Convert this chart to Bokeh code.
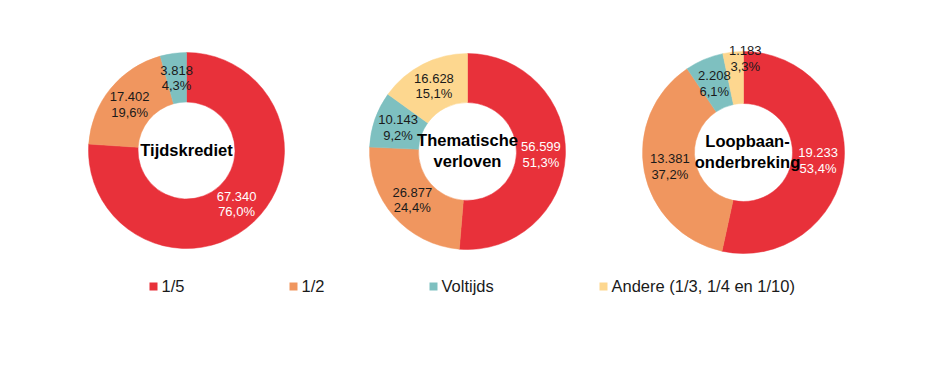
import math
from bokeh.plotting import figure
from bokeh.models import Range1d
from bokeh.core.properties import value
from bokeh.embed import file_html
from bokeh.resources import INLINE

# ---- data ----
categories = ["1/5", "1/2", "Voltijds", "Andere (1/3, 1/4 en 1/10)"]
colors = ["#E8313A", "#F0965F", "#7EC0C0", "#FDD78F"]
chart_titles = ["Tijdskrediet", "Thematische\nverloven", "Loopbaan-\nonderbreking"]
tijdskrediet = [67340, 17402, 3818, 0]
thematische_verloven = [56599, 26877, 10143, 16628]
loopbaanonderbreking = [19233, 13381, 2208, 1183]
series = [tijdskrediet, thematische_verloven, loopbaanonderbreking]

# ---- layout (page pixels; y measured downward from the page top) ----
W, H = 929, 352
cx = [186, 467, 743]
cy = [150, 151, 152]
r_out = [98, 98, 101]
r_in = [48.5, 49, 49]
label_r_extra = {(2, 3): 19}      # pushes the tiny slice label outwards
label_ang_extra = {(2, 3): -7}    # degrees
legend_x = [153, 293, 433, 603]
legend_y = 286

def Y(py):
    return 368 - py

p = figure(width=W, height=H, output_backend="svg", toolbar_location=None,
           x_range=Range1d(0, W), y_range=Range1d(368 - H, 368),
           min_border=0, outline_line_color=None)
p.axis.visible = False
p.grid.visible = False
p.background_fill_color = "white"
p.border_fill_color = "white"

font = value("Liberation Sans")

for ci, vals in enumerate(series):
    total = sum(vals)
    cum = 0.0
    xs, ys, starts, ends, cols = [], [], [], [], []
    lx, ly, lt, lc = [], [], [], []
    for k, v in enumerate(vals):
        if v <= 0:
            continue
        s = cum / total
        e = (cum + v) / total
        cum += v
        a_s = math.pi / 2 - 2 * math.pi * s
        a_e = math.pi / 2 - 2 * math.pi * e
        xs.append(cx[ci]); ys.append(Y(cy[ci]))
        starts.append(a_e); ends.append(a_s); cols.append(colors[k])
        mid = (a_s + a_e) / 2 + math.radians(label_ang_extra.get((ci, k), 0))
        rr = (r_in[ci] + r_out[ci]) / 2 + label_r_extra.get((ci, k), 0)
        lx.append(cx[ci] + rr * math.cos(mid))
        ly.append(Y(cy[ci]) + rr * math.sin(mid))
        pct = f"{100 * v / total:.1f}".replace(".", ",") + "%"
        lt.append(f"{v:,}".replace(",", ".") + "\n" + pct)
        lc.append("white" if k == 0 else "#1a1a1a")
    p.annular_wedge(x=xs, y=ys, inner_radius=r_in[ci], outer_radius=r_out[ci],
                    start_angle=starts, end_angle=ends, fill_color=cols,
                    line_color=cols, line_width=0.5)
    p.text(x=lx, y=ly, text=lt, text_color=lc, text_align="center",
           text_baseline="middle", text_font=font, text_font_size="13px",
           text_line_height=1.05)
    p.text(x=[cx[ci] + (4 if ci == 2 else 0)], y=[Y(cy[ci] - 1)], text=[chart_titles[ci]],
           text_color="black", text_align="center", text_baseline="middle",
           text_font=font, text_font_size="16.5px", text_font_style="bold",
           text_line_height=1.2)

# legend
p.scatter(x=legend_x, y=[Y(legend_y)] * 4, marker="square", size=8,
          fill_color=colors, line_color=None)
p.text(x=[x + 8 for x in legend_x], y=[Y(legend_y - 1)] * 4, text=categories,
       text_color="#1a1a1a", text_align="left", text_baseline="middle",
       text_font=font, text_font_size="16.5px")

open("out.html", "w").write(file_html(p, INLINE))
